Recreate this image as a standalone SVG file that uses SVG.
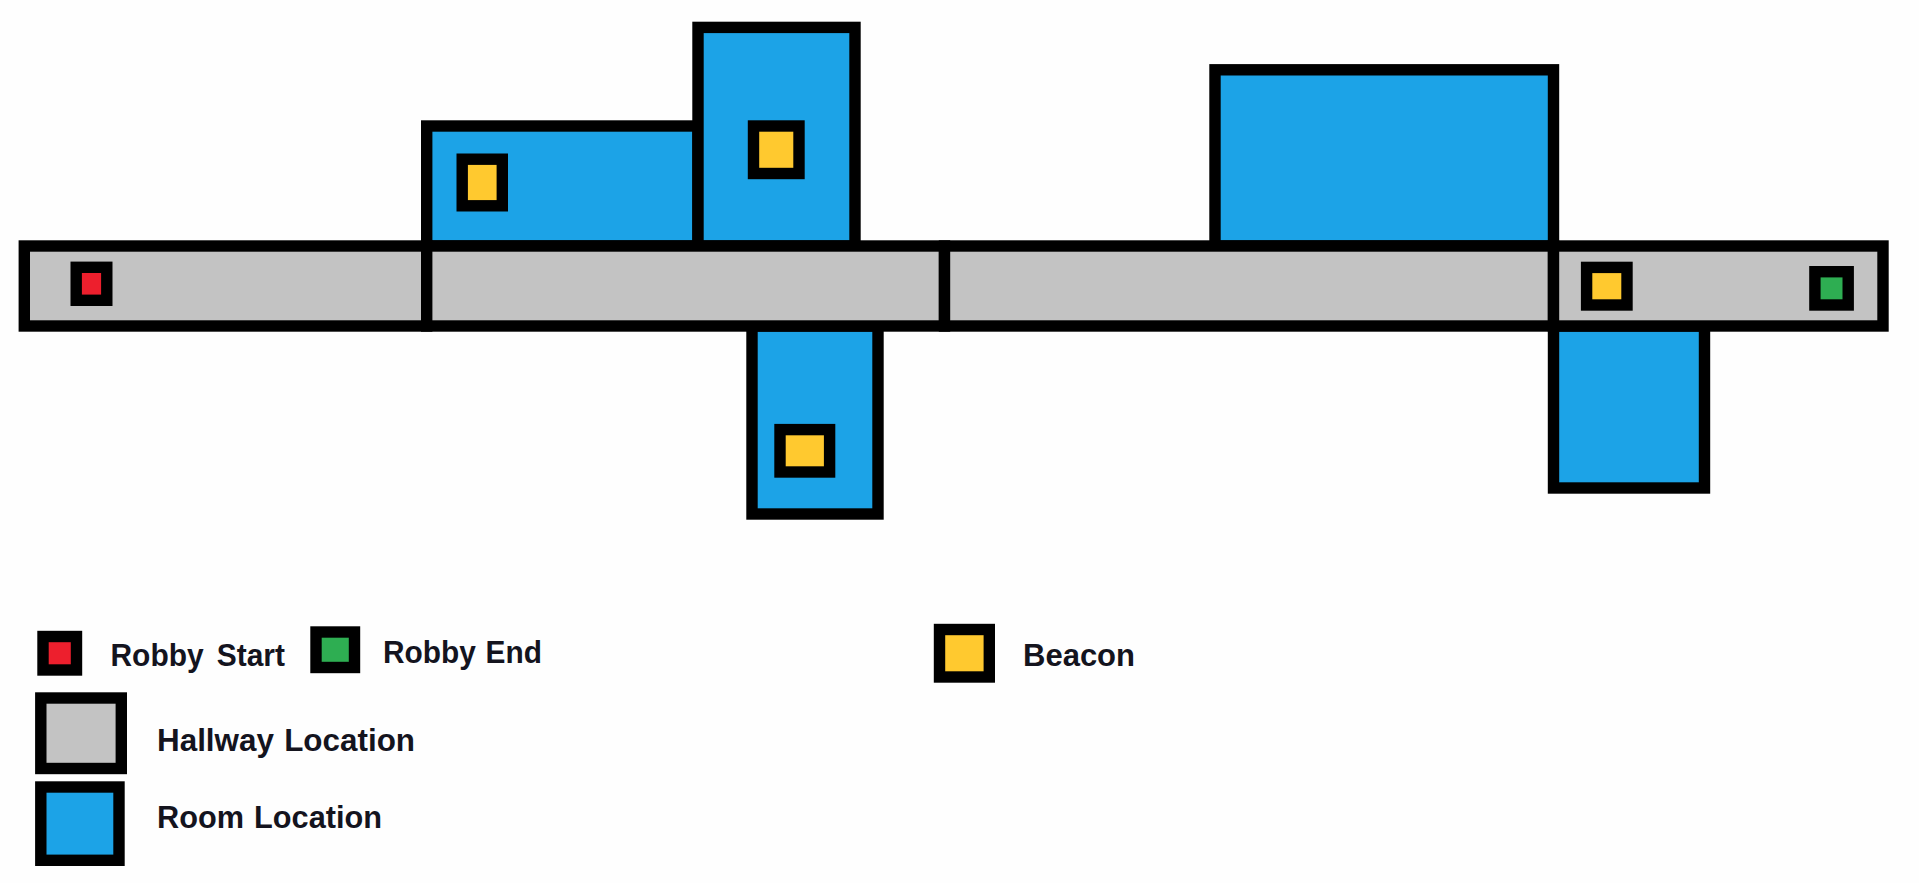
<svg xmlns="http://www.w3.org/2000/svg" width="1919" height="883" viewBox="0 0 1919 883">
<style>
rect.k{stroke:#000;stroke-width:11.4}
.hall{fill:#c3c3c3}
.room{fill:#1ca3e7}
.beacon{fill:#ffc92f}
.start{fill:#ed1f2d}
.end{fill:#2eae52}
text{font-family:"Liberation Sans",Arial,sans-serif;font-weight:700;font-size:31px;fill:#14141e}
</style>
<rect width="1919" height="883" fill="#fefefe"/>
<g id="rooms">
<g id="room-a"><rect class="k room" x="426.7" y="126" width="271.3" height="120"/></g>
<g id="room-b"><rect class="k room" x="698" y="27.4" width="157" height="218.6"/></g>
<g id="room-c"><rect class="k room" x="752" y="326" width="126" height="188"/></g>
<g id="room-d"><rect class="k room" x="1215" y="69.8" width="338.5" height="176.2"/></g>
<g id="room-e"><rect class="k room" x="1553.5" y="326" width="151" height="162"/></g>
</g>
<g id="hallway">
<g id="hall-1"><rect class="k hall" x="24.3" y="246" width="402.4" height="80"/></g>
<g id="hall-2"><rect class="k hall" x="426.7" y="246" width="517.8" height="80"/></g>
<g id="hall-3"><rect class="k hall" x="944.5" y="246" width="609" height="80"/></g>
<g id="hall-4"><rect class="k hall" x="1553.5" y="246" width="329.5" height="80"/></g>
</g>
<g id="markers">
<g id="robby-start"><rect class="k start" x="76.2" y="267.3" width="30.6" height="33"/></g>
<g id="beacon-a"><rect class="k beacon" x="462.2" y="159.2" width="40.1" height="46.6"/></g>
<g id="beacon-b"><rect class="k beacon" x="753.5" y="126" width="45.5" height="47.5"/></g>
<g id="beacon-c"><rect class="k beacon" x="780" y="429.6" width="49.6" height="42.4"/></g>
<g id="beacon-d"><rect class="k beacon" x="1586.6" y="267.4" width="40.4" height="37.6"/></g>
<g id="robby-end"><rect class="k end" x="1814.9" y="271.7" width="33.3" height="33.3"/></g>
</g>
<g id="legend">
<g id="legend-start"><rect class="k start" x="43" y="636.5" width="33.5" height="33.5"/><text x="110.5" y="665.5" word-spacing="5" textLength="174.5" lengthAdjust="spacingAndGlyphs">Robby Start</text></g>
<g id="legend-end"><rect class="k end" x="316" y="632" width="38.5" height="35.5"/><text x="383" y="662.7" word-spacing="1.5" textLength="159" lengthAdjust="spacingAndGlyphs">Robby End</text></g>
<g id="legend-beacon"><rect class="k beacon" x="939.5" y="629.5" width="49.8" height="47.5"/><text x="1023" y="666" textLength="112" lengthAdjust="spacingAndGlyphs">Beacon</text></g>
<g id="legend-hall"><rect class="k hall" x="40.8" y="698" width="80.5" height="70.5"/><text x="157" y="750.7" word-spacing="1.5" textLength="258" lengthAdjust="spacingAndGlyphs">Hallway Location</text></g>
<g id="legend-room"><rect class="k room" x="40.8" y="787" width="78.2" height="73.3"/><text x="157" y="828" word-spacing="1.5" textLength="225" lengthAdjust="spacingAndGlyphs">Room Location</text></g>
</g>
</svg>
